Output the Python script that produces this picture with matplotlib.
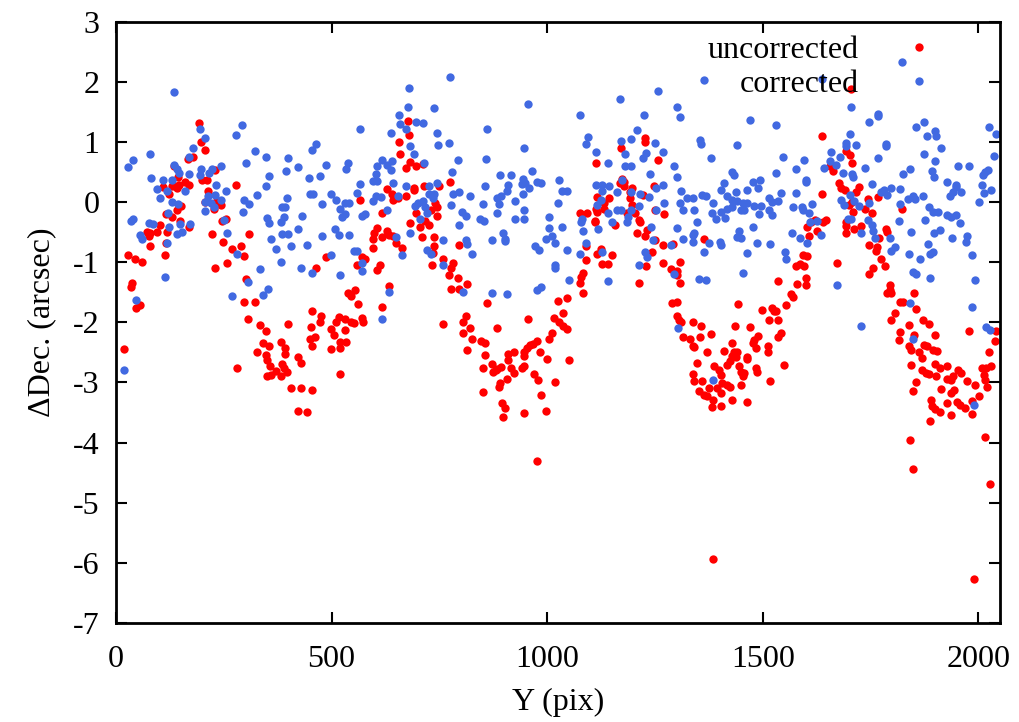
import matplotlib
matplotlib.use("Agg")
import matplotlib.pyplot as plt

# (Y pix, dDec arcsec)
uncorrected = [
    (193, 1.32), (198, 0.99), (206, 0.86), (179, 0.75), (168, 0.71), (135, 0.60), (145, 0.42), (129, 0.27),
    (138, 0.27), (146, 0.29), (109, 0.25), (123, 0.13), (160, 0.33), (169, 0.29), (199, 0.37), (212, 0.37),
    (230, 0.53), (213, 0.18), (142, 0.23), (150, -0.06), (142, -0.13), (117, -0.20), (131, -0.25), (148, -0.32),
    (206, 0.00), (233, 0.00), (243, -0.05), (227, -0.11), (245, -0.32), (254, -0.28), (279, 0.28), (101, -0.39),
    (677, 1.35), (680, 1.12), (656, 0.99), (659, 0.80), (681, 0.66), (673, 0.57), (696, 0.59), (711, 0.63),
    (775, 0.34), (748, 0.27), (714, 0.27), (690, 0.23), (691, 0.20), (629, 0.22), (639, 0.14), (642, 0.03),
    (655, 0.06), (672, 0.10), (567, 0.03), (616, -0.18), (695, -0.18), (730, -0.13), (739, -0.02), (744, -0.08),
    (744, -0.24), (717, -0.31), (681, -0.35), (704, -0.41), (727, -0.38),
    (1227, 1.07), (1227, 1.00), (1170, 0.89), (1256, 0.70), (1113, 0.65), (1173, 0.39), (1178, 0.33), (1169, 0.31),
    (1177, 0.27), (1197, 0.24), (1191, 0.16), (1192, 0.06), (1221, 0.12), (1248, 0.27), (1116, 0.08), (1143, 0.06),
    (1132, -0.02), (1197, -0.05), (1112, -0.11), (1116, -0.17), (1132, -0.11), (1077, -0.19), (1093, -0.18),
    (1110, -0.32), (1186, -0.18), (1213, -0.30), (1204, -0.19), (1250, -0.14), (1271, -0.20), (1157, -0.38),
    (1704, 1.87), (1638, 1.10), (1693, 0.84), (1701, 0.78), (1707, 0.64), (1656, 0.60), (1663, 0.52), (1677, 0.31),
    (1682, 0.24), (1690, 0.20), (1723, 0.25), (1716, 0.17), (1636, 0.13), (1706, 0.00), (1700, -0.05), (1744, 0.05),
    (1768, 0.08), (1708, -0.17), (1737, -0.12), (1753, -0.19), (1822, -0.11), (1647, -0.30), (1640, -0.33),
    (1612, -0.33), (1622, -0.30), (1692, -0.33),
    (28, -0.89), (44, -0.95), (60, -0.99), (38, -1.35), (36, -1.42), (46, -1.76), (56, -1.72), (19, -2.44),
    (80, -0.74), (77, -0.56), (73, -0.50), (80, -0.51), (94, -0.50), (114, -0.89), (119, -0.50), (117, -0.68),
    (170, -0.41), (223, -0.53), (248, -0.66), (230, -1.09), (258, -1.01), (268, -0.78), (291, -0.74), (296, -0.90),
    (308, -0.53), (301, -1.28), (298, -1.66), (322, -1.66), (306, -1.94), (334, -2.05), (349, -2.14), (400, -2.03),
    (455, -1.81), (476, -1.90), (473, -1.99), (452, -2.08), (450, -2.27), (461, -2.25), (499, -2.11), (506, -2.21),
    (517, -1.92), (510, -2.00), (520, -2.33), (520, -2.43), (455, -2.40), (499, -2.44), (341, -2.35), (355, -2.39),
    (382, -2.32), (326, -2.49), (347, -2.54), (351, -2.62), (357, -2.73), (391, -2.43), (393, -2.52), (384, -2.70),
    (390, -2.76), (371, -2.81), (397, -2.82), (351, -2.90), (359, -2.88), (382, -2.90), (422, -2.58), (430, -2.67),
    (281, -2.76), (407, -3.09), (430, -3.10), (455, -3.13), (422, -3.48), (443, -3.49), (486, -0.92), (464, -1.09),
    (520, -2.86),
    (606, -0.44), (598, -0.52), (595, -0.62), (618, -0.59), (629, -0.49), (633, -0.55), (642, -0.57), (649, -0.68),
    (664, -0.76), (596, -0.76), (710, -0.59), (738, -0.59), (738, -0.74), (736, -0.85), (796, -0.71), (758, -0.95),
    (781, -1.02), (778, -1.09), (732, -1.05), (772, -1.21), (794, -1.27), (813, -1.36), (778, -1.45), (795, -1.44),
    (612, -1.04), (606, -1.13), (571, -0.92), (578, -0.94), (560, -1.04), (633, -1.39), (616, -1.74), (538, -1.51),
    (544, -1.57), (555, -1.47), (561, -1.69), (570, -1.93), (573, -2.00), (530, -1.95), (544, -1.99), (552, -2.02),
    (532, -2.13), (533, -2.32), (758, -2.03), (860, -1.68), (811, -1.90), (804, -2.00), (820, -2.10), (804, -2.18),
    (826, -2.28), (815, -2.46), (846, -2.31), (855, -2.34), (856, -2.54), (850, -2.76), (872, -2.69), (884, -2.77),
    (892, -2.75), (874, -2.83), (881, -2.80), (883, -2.10), (908, -2.53), (909, -2.62), (923, -2.49), (906, -2.95),
    (891, -3.01), (888, -3.07), (915, -2.76), (923, -2.85), (941, -2.76), (945, -2.73), (946, -2.56), (946, -2.50),
    (954, -2.43), (960, -2.38), (966, -2.36), (976, -2.31), (955, -1.94), (983, -2.49), (1000, -2.61), (969, -2.86),
    (979, -2.96), (1017, -2.99), (852, -3.16), (985, -3.21), (896, -3.35), (901, -3.43), (898, -3.57), (946, -3.51),
    (998, -3.48), (1004, -2.28), (1010, -2.18), (1016, -1.93), (1024, -1.64), (1027, -1.99),
    (1111, -0.33), (1089, -0.74), (1089, -0.96), (1116, -0.87), (1124, -0.79), (1150, -0.89), (1126, -1.03),
    (1142, -1.03), (1084, -1.18), (1078, -1.24), (1076, -1.34), (1082, -1.52), (1047, -1.59), (1037, -1.85),
    (1037, -2.06), (1047, -2.11), (1051, -2.62), (1208, -0.51), (1227, -0.57), (1232, -0.46), (1215, -0.33),
    (1250, -0.64), (1269, -0.71), (1292, -0.70), (1244, -0.84), (1229, -1.06), (1268, -1.01), (1286, -1.11),
    (1300, -1.14), (1302, -1.22), (1307, -1.35), (1309, -1.00), (1364, -0.62), (1212, -1.34), (1290, -1.68),
    (1302, -1.67), (1300, -1.89), (1306, -1.96), (1311, -1.99), (1337, -1.99), (1356, -2.07), (1354, -2.24),
    (1314, -2.25), (1331, -2.28), (1337, -2.40), (1340, -2.41), (1379, -2.20), (1370, -2.50), (1348, -2.67),
    (1338, -2.86), (1341, -2.98), (1352, -3.14), (1364, -3.21), (1371, -3.23), (1358, -2.98), (1374, -3.10),
    (1387, -2.73), (1398, -2.79), (1404, -2.87), (1393, -3.10), (1402, -3.18), (1385, -3.29), (1383, -3.41),
    (1402, -3.40), (1406, -3.01), (1418, -3.04), (1423, -3.08), (1416, -2.71), (1424, -2.65), (1429, -2.35),
    (1433, -2.49), (1439, -2.50), (1429, -2.56), (1437, -2.57), (1445, -2.73), (1449, -2.82), (1453, -2.90),
    (1456, -2.85), (1435, -2.06), (1442, -1.69), (1409, -2.47), (1428, -3.29), (1449, -3.05), (1464, -3.33),
    (1464, -2.57), (1464, -2.61), (1471, -2.08), (1476, -2.35), (1480, -2.29), (1485, -2.43), (1489, -2.23),
    (1484, -2.76), (1487, -2.82), (1513, -2.39), (1512, -2.50), (1499, -1.80), (1517, -2.97), (1514, -1.96),
    (1521, -1.77), (1526, -1.82), (1536, -1.96), (1536, -1.31), (1534, -2.24),
    (1602, -0.42), (1607, -0.56), (1625, -0.48), (1692, -0.40), (1692, -0.52), (1711, -0.45), (1727, -0.40),
    (1592, -0.88), (1603, -0.90), (1576, -1.06), (1586, -1.03), (1595, -1.06), (1599, -1.27), (1599, -1.38),
    (1580, -1.36), (1566, -1.53), (1570, -1.58), (1553, -1.71), (1531, -1.82), (1543, -2.18), (1549, -2.71),
    (1671, -1.01), (1746, -0.71), (1764, -0.75), (1762, -0.81), (1769, -0.60), (1785, -0.45), (1787, -0.50),
    (1773, -0.94), (1783, -1.07), (1756, -1.10), (1745, -1.19), (1795, -1.38), (1794, -1.46), (1789, -1.52),
    (1796, -1.52), (1818, -1.66), (1826, -1.66), (1806, -1.84), (1798, -1.96), (1851, -1.51), (1855, -1.78),
    (1872, -1.96), (1885, -2.03), (1839, -2.04), (1818, -2.17), (1816, -2.30), (1851, -2.22), (1899, -2.21),
    (1839, -2.39), (1843, -2.46), (1874, -2.38), (1881, -2.40), (1895, -2.46), (1903, -2.47), (1862, -2.50),
    (1868, -2.60), (1843, -2.71), (1870, -2.79), (1878, -2.85), (1885, -2.86), (1899, -2.70), (1902, -2.90),
    (1911, -2.76), (1926, -2.72), (1912, -3.11), (1854, -3.00), (1847, -3.14), (1926, -2.95), (1936, -2.96),
    (1942, -2.90), (1953, -2.79), (1959, -2.85), (1936, -3.17), (1943, -3.12), (1889, -3.29), (1893, -3.40),
    (1899, -3.44), (1911, -3.50), (1926, -3.34), (1936, -3.55), (1887, -3.64), (1951, -3.33), (1957, -3.37),
    (1969, -3.42), (1974, -2.97), (1984, -3.52), (1985, -3.31), (1993, -3.05), (2001, -3.23), (1978, -2.14),
    (2007, -2.76), (2017, -2.76), (2030, -2.73), (2013, -2.87), (2019, -3.08), (2025, -2.50), (2038, -2.31),
    (2041, -2.15), (2015, -2.96),
    (977, -4.31), (1841, -3.95), (2015, -3.90), (1849, -4.44), (2026, -4.69), (1385, -5.94), (1990, -6.26),
]

corrected = [
    (134, 1.83), (28, 0.58), (40, 0.70), (80, 0.80), (81, 0.40), (108, 0.37), (96, 0.22), (102, 0.06),
    (119, 0.19), (130, 0.36), (135, 0.61), (142, 0.55), (146, 0.48), (131, 0.00), (145, -0.04), (120, -0.18),
    (161, 0.19), (170, 0.47), (170, 0.74), (179, 0.90), (196, 1.21), (206, 1.06), (198, 0.55), (195, 0.45),
    (215, 0.48), (223, 0.55), (243, 0.59), (233, 0.29), (254, 0.18), (214, 0.10), (206, 0.00), (220, -0.01),
    (229, 0.12), (243, 0.03), (206, -0.15), (227, -0.08), (250, -0.30), (279, 1.11), (292, 1.28), (322, 0.85),
    (301, 0.65), (349, 0.75), (356, 0.43), (347, 0.26), (326, 0.11), (298, 0.04), (309, -0.03), (295, -0.17),
    (351, -0.27), (356, -0.35), (382, -0.34), (390, -0.25), (385, -0.09), (393, -0.08), (397, 0.07), (394, 0.52),
    (400, 0.73), (423, 0.58), (431, -0.24), (448, 0.40), (455, 0.87), (463, 0.97), (473, 0.43), (486, 0.61),
    (477, -0.04), (451, 0.13), (458, 0.14), (499, 0.14), (510, 0.04), (519, -0.12), (40, -0.28), (36, -0.32),
    (77, -0.35), (87, -0.37), (148, -0.37), (171, -0.37), (123, -0.42), (422, -0.45),
    (775, 2.08), (680, 1.89), (677, 1.58), (738, 1.57), (656, 1.44), (659, 1.29), (673, 1.22), (696, 1.33),
    (712, 1.32), (567, 1.21), (637, 1.15), (744, 1.14), (747, 0.94), (772, 0.98), (682, 0.93), (690, 0.80),
    (715, 0.64), (640, 0.68), (616, 0.70), (606, 0.60), (628, 0.62), (638, 0.53), (538, 0.64), (533, 0.55),
    (604, 0.47), (596, 0.35), (605, 0.35), (567, 0.30), (643, 0.31), (672, 0.27), (727, 0.27), (745, 0.32),
    (779, 0.50), (794, 0.69), (857, 0.71), (860, 1.22), (955, 1.63), (947, 0.90), (964, 0.51), (891, 0.45),
    (915, 0.45), (944, 0.38), (949, 0.31), (942, 0.30), (976, 0.33), (985, 0.31), (1028, 0.36), (958, 0.23),
    (909, 0.28), (856, 0.27), (906, 0.18), (892, 0.10), (883, 0.07), (944, 0.13), (925, 0.02), (888, -0.04),
    (850, -0.03), (883, -0.18), (946, -0.13), (947, -0.29), (925, -0.29), (1005, -0.25), (1024, -0.01),
    (844, -0.28), (854, -0.31), (820, 0.10), (796, 0.16), (781, 0.13), (778, -0.05), (803, -0.16), (812, -0.23),
    (795, -0.39), (727, 0.13), (738, 0.13), (734, 0.06), (711, 0.02), (693, -0.06), (700, -0.02), (717, -0.09),
    (721, -0.19), (704, -0.28), (655, 0.10), (614, 0.09), (602, 0.10), (597, 0.02), (629, -0.13), (530, -0.01),
    (541, -0.01), (532, -0.20), (525, -0.25), (571, -0.23), (578, -0.20), (560, 0.15),
    (1364, 2.03), (1256, 1.84), (1168, 1.72), (1077, 1.45), (1302, 1.58), (1309, 1.41), (1225, 1.44),
    (1471, 1.37), (1531, 1.28), (1209, 1.20), (1095, 1.08), (1089, 0.97), (1170, 1.02), (1194, 1.05),
    (1250, 0.98), (1269, 0.83), (1221, 0.73), (1228, 0.82), (1180, 0.79), (1113, 0.83), (1140, 0.65),
    (1180, 0.59), (1195, 0.60), (1355, 1.03), (1357, 0.96), (1379, 0.73), (1441, 0.94), (1293, 0.59),
    (1302, 0.42), (1238, 0.47), (1429, 0.49), (1434, 0.44), (1409, 0.32), (1477, 0.34), (1493, 0.36),
    (1488, 0.24), (1530, 0.48), (1034, 0.19), (1045, 0.19), (1114, 0.29), (1128, 0.29), (1144, 0.27),
    (1127, 0.19), (1162, 0.16), (1174, 0.37), (1194, 0.17), (1215, 0.13), (1237, 0.09), (1253, 0.24),
    (1269, 0.29), (1325, 0.07), (1310, 0.18), (1337, 0.07), (1360, 0.12), (1368, 0.10), (1385, -0.02),
    (1403, 0.20), (1418, 0.10), (1429, 0.03), (1437, 0.17), (1441, 0.01), (1453, -0.01), (1464, -0.02),
    (1463, 0.20), (1480, -0.06), (1495, -0.06), (1514, 0.06), (1521, 0.00), (1534, 0.02), (1542, 0.15),
    (1116, -0.05), (1124, 0.03), (1161, -0.13), (1172, -0.14), (1194, -0.14), (1213, -0.06), (1270, -0.01),
    (1252, -0.13), (1307, -0.01), (1314, -0.14), (1340, -0.13), (1383, -0.19), (1392, -0.28), (1402, -0.17),
    (1412, -0.26), (1418, -0.12), (1429, -0.09), (1449, -0.14), (1456, -0.13), (1491, -0.20), (1476, -0.41),
    (1514, -0.14), (1522, -0.22), (1140, -0.19), (1151, -0.33), (1184, -0.33), (1187, -0.25), (1081, -0.29),
    (1078, -0.34), (1035, -0.41), (1348, -0.34), (1300, -0.44),
    (1822, 2.32), (1638, 2.05), (1704, 1.58), (1745, 1.33), (1768, 1.46), (1768, 1.43), (1854, 1.25),
    (1874, 1.33), (1881, 1.10), (1900, 1.18), (1902, 1.10), (1913, 0.89), (1874, 0.79), (1899, 0.68),
    (2025, 1.24), (2041, 1.13), (2037, 0.77), (1701, 1.13), (1693, 0.98), (1693, 0.93), (1716, 0.95),
    (1658, 0.83), (1678, 0.74), (1655, 0.68), (1642, 0.56), (1670, 0.61), (1685, 0.48), (1706, 0.47),
    (1710, 0.42), (1736, 0.57), (1767, 0.73), (1786, 0.96), (1786, 0.93), (1546, 0.74), (1578, 0.55),
    (1595, 0.69), (1600, 0.37), (1599, 0.33), (1578, 0.15), (1569, -0.09), (1590, -0.09), (1594, -0.14),
    (1614, -0.03), (1607, -0.19), (1626, -0.31), (1681, 0.03), (1688, -0.05), (1701, 0.12), (1711, 0.02),
    (1705, -0.28), (1698, -0.28), (1723, -0.07), (1745, -0.01), (1752, 0.30), (1773, 0.17), (1781, 0.20),
    (1789, 0.12), (1796, 0.24), (1818, 0.22), (1826, 0.46), (1842, 0.55), (1817, -0.03), (1837, 0.05),
    (1847, 0.10), (1852, 0.05), (1871, 0.10), (1893, 0.51), (1896, 0.41), (1926, 0.34), (1953, 0.60),
    (1977, 0.59), (1949, 0.29), (1947, 0.25), (1940, 0.16), (1933, 0.10), (1960, 0.17), (2014, 0.50),
    (2011, 0.44), (2022, 0.53), (2007, 0.28), (2013, 0.15), (2030, 0.20), (2001, 0.00), (1885, -0.09),
    (1895, -0.16), (1905, -0.17), (1876, -0.30), (1816, -0.31), (1926, -0.22), (1936, -0.25), (1947, -0.22),
    (1957, -0.35), (1754, -0.38), (1744, -0.30),
    (55, -0.55), (60, -0.62), (118, -0.68), (142, -0.53), (152, -0.50), (114, -1.25), (46, -1.63), (19, -2.80),
    (258, -0.51), (281, -0.87), (269, -1.56), (306, -1.33), (335, -1.11), (341, -1.55), (353, -1.45),
    (359, -0.62), (371, -0.78), (384, -0.54), (400, -0.54), (382, -0.99), (407, -0.74), (442, -0.71),
    (429, -1.09), (455, -1.18), (478, -0.56), (499, -0.88), (507, -0.45), (517, -0.55), (520, -1.22),
    (540, -0.55), (552, -0.81), (560, -0.81), (571, -1.01), (570, -1.15), (649, -0.59), (664, -0.89),
    (633, -1.50), (616, -1.95), (682, -0.52), (722, -0.80), (731, -0.86), (758, -0.64), (758, -1.04),
    (811, -0.63), (815, -0.70), (826, -0.86), (873, -0.63), (898, -0.51), (901, -0.61), (902, -0.65),
    (805, -1.49), (872, -1.52), (906, -1.53), (971, -0.74), (981, -0.80), (1003, -0.43), (1012, -0.56),
    (998, -0.61), (1017, -0.69), (1017, -1.05), (1017, -1.09), (977, -1.46), (985, -1.41),
    (1082, -0.49), (1047, -0.80), (1076, -0.86), (1091, -0.68), (1118, -0.45), (1126, -0.83), (1051, -1.29),
    (1141, -1.32), (1213, -1.04), (1226, -0.84), (1231, -0.91), (1240, -0.41), (1245, -0.63), (1288, -0.71),
    (1293, -1.20), (1315, -0.61), (1337, -0.55), (1340, -0.51), (1337, -0.66), (1364, -0.83), (1375, -0.69),
    (1401, -0.66), (1402, -0.71), (1352, -1.28), (1369, -1.30), (1304, -2.10), (1385, -2.96), (1439, -0.58),
    (1445, -0.49), (1449, -0.60), (1464, -0.85), (1486, -0.68), (1517, -0.70), (1454, -1.18),
    (1609, -0.33), (1568, -0.52), (1586, -0.60), (1603, -0.68), (1634, -0.55), (1551, -0.84), (1553, -0.95),
    (1671, -1.38), (1728, -2.07), (1727, -0.52), (1755, -0.49), (1760, -0.60), (1795, -0.60), (1798, -0.82),
    (1806, -0.75), (1843, -0.50), (1839, -0.87), (1864, -0.95), (1847, -1.17), (1855, -1.20), (1887, -1.27),
    (1841, -1.68), (1849, -2.27), (1883, -0.70), (1888, -0.87), (1895, -0.84), (1897, -0.52), (1911, -0.46),
    (1938, -0.60), (1974, -0.56), (1970, -0.67), (1985, -0.88), (1993, -1.29), (1984, -1.75), (2017, -2.08),
    (2027, -2.13), (1990, -3.38),
]

x_ticks = [0, 500, 1000, 1500, 2000]
y_ticks = [-7, -6, -5, -4, -3, -2, -1, 0, 1, 2, 3]

plt.rcParams["font.family"] = ["Liberation Serif", "DejaVu Serif"]
plt.rcParams["font.size"] = 23
plt.rcParams["axes.unicode_minus"] = False

fig = plt.figure(figsize=(10.19, 7.22), dpi=100)
ax = fig.add_axes([0.1138, 0.1371, 0.8676, 0.8331])

ux, uy = zip(*uncorrected)
cx, cy = zip(*corrected)
ax.plot(ux, uy, linestyle="none", marker="o", markersize=6, markeredgewidth=0,
        color="#ff0000", label="uncorrected")
ax.plot(cx, cy, linestyle="none", marker="o", markersize=6, markeredgewidth=0,
        color="#4169e1", label="corrected")

ax.set_xlim(0, 2050)
ax.set_ylim(-7, 3)
ax.set_xticks(x_ticks)
ax.set_yticks(y_ticks)
ax.tick_params(direction="in", length=8, width=1.5, top=True, right=True)
ax.tick_params(axis="x", pad=16)
ax.tick_params(axis="y", pad=12)
for spine in ax.spines.values():
    spine.set_linewidth(2)

ax.set_xlabel("Y (pix)", labelpad=10)
ax.set_ylabel("ΔDec. (arcsec)", labelpad=12)

ax.legend(loc="upper right", bbox_to_anchor=(0.941, 0.998), borderaxespad=0,
          frameon=False, markerfirst=False, handlelength=1.0, handletextpad=1.4,
          labelspacing=0.15)

plt.savefig("out.png", dpi=100)
plt.close()
